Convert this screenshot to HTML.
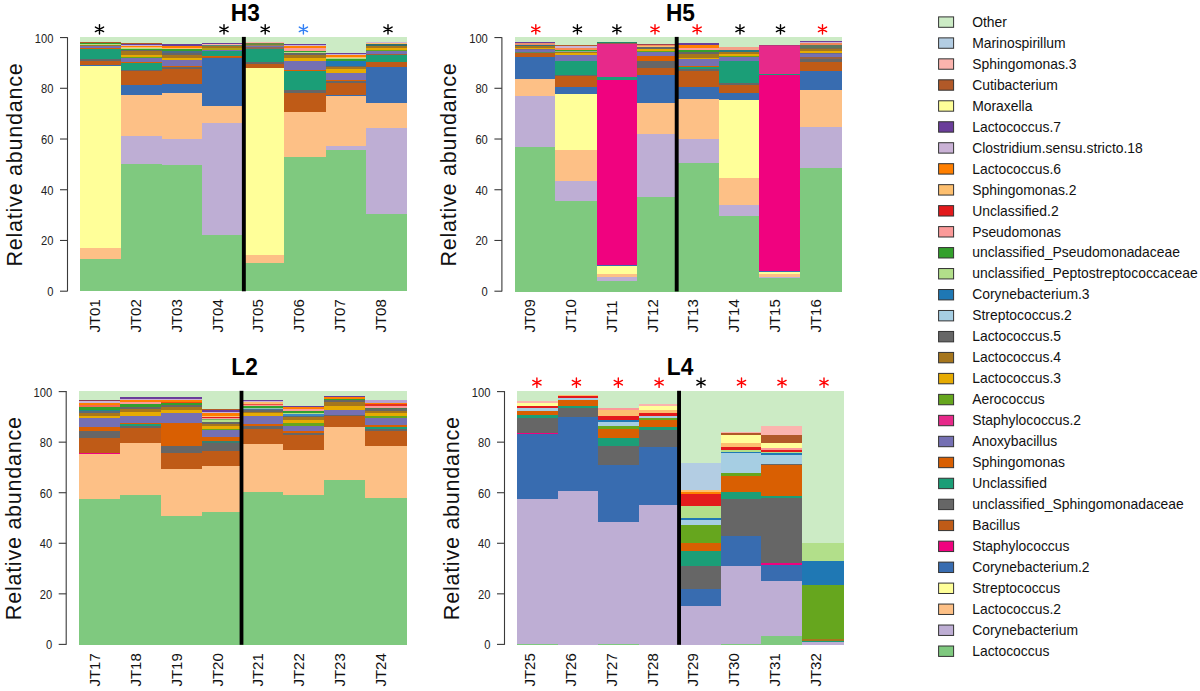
<!DOCTYPE html><html><head><meta charset="utf-8"><title>Relative abundance</title><style>html,body{margin:0;padding:0;background:#fff;}svg{display:block;}</style></head><body>
<svg width="1200" height="691" viewBox="0 0 1200 691" font-family='"Liberation Sans", sans-serif'>
<rect width="1200" height="691" fill="#fff"/>
<g shape-rendering="crispEdges">
<rect x="80" y="37.2" width="41.3" height="4.3" fill="#CCEBC5"/>
<rect x="80" y="41.5" width="41.3" height="0.5" fill="#FBB4AE"/>
<rect x="80" y="42" width="41.3" height="0.5" fill="#B15928"/>
<rect x="80" y="42.5" width="41.3" height="0.5" fill="#CAB2D6"/>
<rect x="80" y="43" width="41.3" height="1" fill="#33A02C"/>
<rect x="80" y="44" width="41.3" height="0.9" fill="#B2DF8A"/>
<rect x="80" y="44.9" width="41.3" height="0.5" fill="#666666"/>
<rect x="80" y="45.4" width="41.3" height="0.5" fill="#A6761D"/>
<rect x="80" y="45.9" width="41.3" height="2.1" fill="#7570B3"/>
<rect x="80" y="48" width="41.3" height="1.3" fill="#D95F02"/>
<rect x="80" y="49.3" width="41.3" height="9.9" fill="#1B9E77"/>
<rect x="80" y="59.2" width="41.3" height="1.4" fill="#666666"/>
<rect x="80" y="60.6" width="41.3" height="4.4" fill="#BF5B17"/>
<rect x="80" y="65" width="41.3" height="0.7" fill="#386CB0"/>
<rect x="80" y="65.7" width="41.3" height="182.2" fill="#FFFF99"/>
<rect x="80" y="247.9" width="41.3" height="11.4" fill="#FDC086"/>
<rect x="80" y="259.3" width="41.3" height="32" fill="#7FC97F"/>
<rect x="121" y="37.2" width="41" height="5.8" fill="#CCEBC5"/>
<rect x="121" y="43" width="41" height="1.1" fill="#B15928"/>
<rect x="121" y="44.1" width="41" height="0.65" fill="#6A3D9A"/>
<rect x="121" y="44.75" width="41" height="0.85" fill="#CAB2D6"/>
<rect x="121" y="45.6" width="41" height="1.7" fill="#FF7F00"/>
<rect x="121" y="47.3" width="41" height="1" fill="#FDBF6F"/>
<rect x="121" y="48.3" width="41" height="0.55" fill="#B2DF8A"/>
<rect x="121" y="48.85" width="41" height="1.15" fill="#33A02C"/>
<rect x="121" y="50" width="41" height="1.4" fill="#666666"/>
<rect x="121" y="51.4" width="41" height="3.4" fill="#A6761D"/>
<rect x="121" y="54.8" width="41" height="2.4" fill="#E6AB02"/>
<rect x="121" y="57.2" width="41" height="0.8" fill="#66A61E"/>
<rect x="121" y="58" width="41" height="3.8" fill="#7570B3"/>
<rect x="121" y="61.8" width="41" height="1.2" fill="#D95F02"/>
<rect x="121" y="63" width="41" height="7.2" fill="#1B9E77"/>
<rect x="121" y="70.2" width="41" height="1" fill="#666666"/>
<rect x="121" y="71.2" width="41" height="13.5" fill="#BF5B17"/>
<rect x="121" y="84.7" width="41" height="10" fill="#386CB0"/>
<rect x="121" y="94.7" width="41" height="41.3" fill="#FDC086"/>
<rect x="121" y="136" width="41" height="27.9" fill="#BEAED4"/>
<rect x="121" y="163.9" width="41" height="127.4" fill="#7FC97F"/>
<rect x="161.7" y="37.2" width="40.8" height="6.8" fill="#CCEBC5"/>
<rect x="161.7" y="44" width="40.8" height="1.5" fill="#6A3D9A"/>
<rect x="161.7" y="45.5" width="40.8" height="0.6" fill="#CAB2D6"/>
<rect x="161.7" y="46.1" width="40.8" height="1.8" fill="#FF7F00"/>
<rect x="161.7" y="47.9" width="40.8" height="1.1" fill="#FDBF6F"/>
<rect x="161.7" y="49" width="40.8" height="2.3" fill="#33A02C"/>
<rect x="161.7" y="51.3" width="40.8" height="1.3" fill="#4A6E8A"/>
<rect x="161.7" y="52.6" width="40.8" height="2" fill="#666666"/>
<rect x="161.7" y="54.6" width="40.8" height="3.2" fill="#A6761D"/>
<rect x="161.7" y="57.8" width="40.8" height="2.2" fill="#E6AB02"/>
<rect x="161.7" y="60" width="40.8" height="5.6" fill="#7570B3"/>
<rect x="161.7" y="65.6" width="40.8" height="1.1" fill="#D95F02"/>
<rect x="161.7" y="66.7" width="40.8" height="2.2" fill="#666666"/>
<rect x="161.7" y="68.9" width="40.8" height="15.1" fill="#BF5B17"/>
<rect x="161.7" y="84" width="40.8" height="8.6" fill="#386CB0"/>
<rect x="161.7" y="92.6" width="40.8" height="46.2" fill="#FDC086"/>
<rect x="161.7" y="138.8" width="40.8" height="25.9" fill="#BEAED4"/>
<rect x="161.7" y="164.7" width="40.8" height="126.6" fill="#7FC97F"/>
<rect x="202.2" y="37.2" width="41.9" height="5.9" fill="#CCEBC5"/>
<rect x="202.2" y="43.1" width="41.9" height="0.7" fill="#6A3D9A"/>
<rect x="202.2" y="43.8" width="41.9" height="0.8" fill="#FBB4AE"/>
<rect x="202.2" y="44.6" width="41.9" height="1.6" fill="#4E8C78"/>
<rect x="202.2" y="46.2" width="41.9" height="1.9" fill="#A6761D"/>
<rect x="202.2" y="48.1" width="41.9" height="1.8" fill="#B0A412"/>
<rect x="202.2" y="49.9" width="41.9" height="1.4" fill="#7570B3"/>
<rect x="202.2" y="51.3" width="41.9" height="4.4" fill="#1B9E77"/>
<rect x="202.2" y="55.7" width="41.9" height="1.3" fill="#D95F02"/>
<rect x="202.2" y="57" width="41.9" height="1.2" fill="#BF5B17"/>
<rect x="202.2" y="58.2" width="41.9" height="48" fill="#386CB0"/>
<rect x="202.2" y="106.2" width="41.9" height="16.7" fill="#FDC086"/>
<rect x="202.2" y="122.9" width="41.9" height="112.4" fill="#BEAED4"/>
<rect x="202.2" y="235.3" width="41.9" height="56" fill="#7FC97F"/>
<rect x="243.8" y="37.2" width="40.5" height="4.8" fill="#CCEBC5"/>
<rect x="243.8" y="42" width="40.5" height="0.9" fill="#FBB4AE"/>
<rect x="243.8" y="42.9" width="40.5" height="1.6" fill="#6A8A40"/>
<rect x="243.8" y="44.5" width="40.5" height="1.4" fill="#A08050"/>
<rect x="243.8" y="45.9" width="40.5" height="1.3" fill="#7570B3"/>
<rect x="243.8" y="47.2" width="40.5" height="1.4" fill="#8F6A58"/>
<rect x="243.8" y="48.6" width="40.5" height="13.4" fill="#1B9E77"/>
<rect x="243.8" y="62" width="40.5" height="1.7" fill="#666666"/>
<rect x="243.8" y="63.7" width="40.5" height="4.6" fill="#BF5B17"/>
<rect x="243.8" y="68.3" width="40.5" height="186.2" fill="#FFFF99"/>
<rect x="243.8" y="254.5" width="40.5" height="8.3" fill="#FDC086"/>
<rect x="243.8" y="262.8" width="40.5" height="28.5" fill="#7FC97F"/>
<rect x="284" y="37.2" width="42.1" height="6.6" fill="#CCEBC5"/>
<rect x="284" y="43.8" width="42.1" height="1.4" fill="#6A3D9A"/>
<rect x="284" y="45.2" width="42.1" height="0.8" fill="#CAB2D6"/>
<rect x="284" y="46" width="42.1" height="2.3" fill="#FF7F00"/>
<rect x="284" y="48.3" width="42.1" height="2.3" fill="#FB9A99"/>
<rect x="284" y="50.6" width="42.1" height="1.1" fill="#33A02C"/>
<rect x="284" y="51.7" width="42.1" height="1" fill="#B2DF8A"/>
<rect x="284" y="52.7" width="42.1" height="2.7" fill="#666666"/>
<rect x="284" y="55.4" width="42.1" height="2.4" fill="#A6761D"/>
<rect x="284" y="57.8" width="42.1" height="3.5" fill="#E6AB02"/>
<rect x="284" y="61.3" width="42.1" height="8.4" fill="#7570B3"/>
<rect x="284" y="69.7" width="42.1" height="1" fill="#D95F02"/>
<rect x="284" y="70.7" width="42.1" height="19" fill="#1B9E77"/>
<rect x="284" y="89.7" width="42.1" height="2.8" fill="#666666"/>
<rect x="284" y="92.5" width="42.1" height="19.5" fill="#BF5B17"/>
<rect x="284" y="112" width="42.1" height="44.5" fill="#FDC086"/>
<rect x="284" y="156.5" width="42.1" height="134.8" fill="#7FC97F"/>
<rect x="325.8" y="37.2" width="40.2" height="15.7" fill="#CCEBC5"/>
<rect x="325.8" y="52.9" width="40.2" height="1.2" fill="#6A3D9A"/>
<rect x="325.8" y="54.1" width="40.2" height="0.7" fill="#CAB2D6"/>
<rect x="325.8" y="54.8" width="40.2" height="2.2" fill="#FF7F00"/>
<rect x="325.8" y="57" width="40.2" height="1.2" fill="#FDBF6F"/>
<rect x="325.8" y="58.2" width="40.2" height="0.7" fill="#B2DF8A"/>
<rect x="325.8" y="58.9" width="40.2" height="1.7" fill="#33A02C"/>
<rect x="325.8" y="60.6" width="40.2" height="4.9" fill="#1F78B4"/>
<rect x="325.8" y="65.5" width="40.2" height="1.4" fill="#666666"/>
<rect x="325.8" y="66.9" width="40.2" height="1.8" fill="#A6761D"/>
<rect x="325.8" y="68.7" width="40.2" height="4.5" fill="#E6AB02"/>
<rect x="325.8" y="73.2" width="40.2" height="6.3" fill="#7570B3"/>
<rect x="325.8" y="79.5" width="40.2" height="1.4" fill="#D95F02"/>
<rect x="325.8" y="80.9" width="40.2" height="1.8" fill="#666666"/>
<rect x="325.8" y="82.7" width="40.2" height="12.2" fill="#BF5B17"/>
<rect x="325.8" y="94.9" width="40.2" height="1.4" fill="#386CB0"/>
<rect x="325.8" y="96.3" width="40.2" height="49.4" fill="#FDC086"/>
<rect x="325.8" y="145.7" width="40.2" height="4.6" fill="#BEAED4"/>
<rect x="325.8" y="150.3" width="40.2" height="141" fill="#7FC97F"/>
<rect x="365.7" y="37.2" width="41.5" height="5.2" fill="#CCEBC5"/>
<rect x="365.7" y="42.4" width="41.5" height="0.7" fill="#CAB2D6"/>
<rect x="365.7" y="43.1" width="41.5" height="0.9" fill="#FDBF6F"/>
<rect x="365.7" y="44" width="41.5" height="1.9" fill="#2F6E6E"/>
<rect x="365.7" y="45.9" width="41.5" height="1.7" fill="#A6761D"/>
<rect x="365.7" y="47.6" width="41.5" height="2.7" fill="#E6AB02"/>
<rect x="365.7" y="50.3" width="41.5" height="0.8" fill="#66A61E"/>
<rect x="365.7" y="51.1" width="41.5" height="2.8" fill="#7570B3"/>
<rect x="365.7" y="53.9" width="41.5" height="0.8" fill="#A2603A"/>
<rect x="365.7" y="54.7" width="41.5" height="7" fill="#1B9E77"/>
<rect x="365.7" y="61.7" width="41.5" height="5.6" fill="#BF5B17"/>
<rect x="365.7" y="67.3" width="41.5" height="35.6" fill="#386CB0"/>
<rect x="365.7" y="102.9" width="41.5" height="25.3" fill="#FDC086"/>
<rect x="365.7" y="128.2" width="41.5" height="85.6" fill="#BEAED4"/>
<rect x="365.7" y="213.8" width="41.5" height="77.5" fill="#7FC97F"/>
</g>
<rect x="241.9" y="36.9" width="3.9" height="254.4" fill="#000"/>
<g stroke="#3a3a3a" stroke-width="1.1" fill="none">
<path d="M67.5 37.2V291.3"/>
<path d="M60 291.2H67.5"/>
<path d="M60 240.47H67.5"/>
<path d="M60 189.74H67.5"/>
<path d="M60 139.02H67.5"/>
<path d="M60 88.29H67.5"/>
<path d="M60 37.56H67.5"/>
</g>
<g font-size="12" fill="#222" text-anchor="end">
<text transform="translate(53.4 296.15) scale(0.93 1)">0</text>
<text transform="translate(53.4 245.42) scale(0.93 1)">20</text>
<text transform="translate(53.4 194.69) scale(0.93 1)">40</text>
<text transform="translate(53.4 143.97) scale(0.93 1)">60</text>
<text transform="translate(53.4 93.24) scale(0.93 1)">80</text>
<text transform="translate(53.4 42.51) scale(0.93 1)">100</text>
</g>
<text transform="translate(22 164.85) rotate(-90)" font-size="21.6" text-anchor="middle" textLength="203.3" lengthAdjust="spacing" fill="#111">Relative abundance</text>
<g font-size="15" fill="#111">
<text transform="translate(100 332.6) rotate(-90)">JT01</text>
<text transform="translate(140.85 332.6) rotate(-90)">JT02</text>
<text transform="translate(181.7 332.6) rotate(-90)">JT03</text>
<text transform="translate(222.55 332.6) rotate(-90)">JT04</text>
<text transform="translate(263.4 332.6) rotate(-90)">JT05</text>
<text transform="translate(304.25 332.6) rotate(-90)">JT06</text>
<text transform="translate(345.1 332.6) rotate(-90)">JT07</text>
<text transform="translate(385.95 332.6) rotate(-90)">JT08</text>
</g>
<text transform="translate(245.3 20.7) scale(1 1.035)" font-size="22.7" font-weight="bold" text-anchor="middle" fill="#000">H3</text>
<path d="M99.5 34L99.5 24.6M95.39 31.58L103.61 27.02M95.39 27.02L103.61 31.58" stroke="#000" stroke-width="1.4" stroke-linecap="round" fill="none"/>
<path d="M224 34L224 24.6M219.89 31.58L228.11 27.02M219.89 27.02L228.11 31.58" stroke="#000" stroke-width="1.4" stroke-linecap="round" fill="none"/>
<path d="M265.2 34L265.2 24.6M261.09 31.58L269.31 27.02M261.09 27.02L269.31 31.58" stroke="#000" stroke-width="1.4" stroke-linecap="round" fill="none"/>
<path d="M303.4 34L303.4 24.6M299.29 31.58L307.51 27.02M299.29 27.02L307.51 31.58" stroke="#3380F5" stroke-width="1.4" stroke-linecap="round" fill="none"/>
<path d="M388 34L388 24.6M383.89 31.58L392.11 27.02M383.89 27.02L392.11 31.58" stroke="#000" stroke-width="1.4" stroke-linecap="round" fill="none"/>
<g shape-rendering="crispEdges">
<rect x="515" y="37.2" width="40.65" height="4.6" fill="#CCEBC5"/>
<rect x="515" y="41.8" width="40.65" height="1.1" fill="#6A3D9A"/>
<rect x="515" y="42.9" width="40.65" height="1.6" fill="#E89070"/>
<rect x="515" y="44.5" width="40.65" height="1.4" fill="#2F7080"/>
<rect x="515" y="45.9" width="40.65" height="1.7" fill="#A6761D"/>
<rect x="515" y="47.6" width="40.65" height="1.7" fill="#E6AB02"/>
<rect x="515" y="49.3" width="40.65" height="0.7" fill="#7A6A90"/>
<rect x="515" y="50" width="40.65" height="1.7" fill="#7570B3"/>
<rect x="515" y="51.7" width="40.65" height="1" fill="#5E8A60"/>
<rect x="515" y="52.7" width="40.65" height="4.1" fill="#BF5B17"/>
<rect x="515" y="56.8" width="40.65" height="22" fill="#386CB0"/>
<rect x="515" y="78.8" width="40.65" height="17.5" fill="#FDC086"/>
<rect x="515" y="96.3" width="40.65" height="51.1" fill="#BEAED4"/>
<rect x="515" y="147.4" width="40.65" height="144.1" fill="#7FC97F"/>
<rect x="555.35" y="37.2" width="41.95" height="7.6" fill="#CCEBC5"/>
<rect x="555.35" y="44.8" width="41.95" height="1.1" fill="#B15928"/>
<rect x="555.35" y="45.9" width="41.95" height="1.7" fill="#CAB2D6"/>
<rect x="555.35" y="47.6" width="41.95" height="2" fill="#F98850"/>
<rect x="555.35" y="49.6" width="41.95" height="1.3" fill="#33A02C"/>
<rect x="555.35" y="50.9" width="41.95" height="0.8" fill="#8AAAA0"/>
<rect x="555.35" y="51.7" width="41.95" height="1.7" fill="#A6761D"/>
<rect x="555.35" y="53.4" width="41.95" height="1.7" fill="#E6AB02"/>
<rect x="555.35" y="55.1" width="41.95" height="5.5" fill="#7570B3"/>
<rect x="555.35" y="60.6" width="41.95" height="14" fill="#1B9E77"/>
<rect x="555.35" y="74.6" width="41.95" height="0.9" fill="#666666"/>
<rect x="555.35" y="75.5" width="41.95" height="11.7" fill="#BF5B17"/>
<rect x="555.35" y="87.2" width="41.95" height="6.7" fill="#386CB0"/>
<rect x="555.35" y="93.9" width="41.95" height="56.4" fill="#FFFF99"/>
<rect x="555.35" y="150.3" width="41.95" height="30.7" fill="#FDC086"/>
<rect x="555.35" y="181" width="41.95" height="19.8" fill="#BEAED4"/>
<rect x="555.35" y="200.8" width="41.95" height="90.7" fill="#7FC97F"/>
<rect x="597" y="37.2" width="40.1" height="4.8" fill="#CCEBC5"/>
<rect x="597" y="42" width="40.1" height="1.1" fill="#1E8A68"/>
<rect x="597" y="43.1" width="40.1" height="0.6" fill="#9A5A50"/>
<rect x="597" y="43.7" width="40.1" height="33.7" fill="#E7298A"/>
<rect x="597" y="77.4" width="40.1" height="2.1" fill="#1B9E77"/>
<rect x="597" y="79.5" width="40.1" height="185.1" fill="#F0027F"/>
<rect x="597" y="264.6" width="40.1" height="1.4" fill="#386CB0"/>
<rect x="597" y="266" width="40.1" height="7.6" fill="#FFFF99"/>
<rect x="597" y="273.6" width="40.1" height="2.9" fill="#FDC086"/>
<rect x="597" y="276.5" width="40.1" height="4.2" fill="#BEAED4"/>
<rect x="597" y="280.7" width="40.1" height="10.8" fill="#7FC97F"/>
<rect x="636.8" y="37.2" width="40.5" height="6.6" fill="#CCEBC5"/>
<rect x="636.8" y="43.8" width="40.5" height="1" fill="#A04050"/>
<rect x="636.8" y="44.8" width="40.5" height="1.3" fill="#F59060"/>
<rect x="636.8" y="46.1" width="40.5" height="0.6" fill="#FDBF6F"/>
<rect x="636.8" y="46.7" width="40.5" height="1.9" fill="#666666"/>
<rect x="636.8" y="48.6" width="40.5" height="2.4" fill="#E6AB02"/>
<rect x="636.8" y="51" width="40.5" height="0.6" fill="#66A61E"/>
<rect x="636.8" y="51.6" width="40.5" height="4.3" fill="#7570B3"/>
<rect x="636.8" y="55.9" width="40.5" height="5.4" fill="#D95F02"/>
<rect x="636.8" y="61.3" width="40.5" height="6.3" fill="#666666"/>
<rect x="636.8" y="67.6" width="40.5" height="7" fill="#BF5B17"/>
<rect x="636.8" y="74.6" width="40.5" height="28" fill="#386CB0"/>
<rect x="636.8" y="102.6" width="40.5" height="31.8" fill="#FDC086"/>
<rect x="636.8" y="134.4" width="40.5" height="62.4" fill="#BEAED4"/>
<rect x="636.8" y="196.8" width="40.5" height="94.7" fill="#7FC97F"/>
<rect x="677" y="37.2" width="42.3" height="5.9" fill="#CCEBC5"/>
<rect x="677" y="43.1" width="42.3" height="1.8" fill="#6A3D9A"/>
<rect x="677" y="44.9" width="42.3" height="3" fill="#FF7F00"/>
<rect x="677" y="47.9" width="42.3" height="2.1" fill="#FB9A99"/>
<rect x="677" y="50" width="42.3" height="2" fill="#33A02C"/>
<rect x="677" y="52" width="42.3" height="1.7" fill="#666666"/>
<rect x="677" y="53.7" width="42.3" height="4.1" fill="#A6761D"/>
<rect x="677" y="57.8" width="42.3" height="1.5" fill="#E6AB02"/>
<rect x="677" y="59.3" width="42.3" height="6.6" fill="#7570B3"/>
<rect x="677" y="65.9" width="42.3" height="1" fill="#D95F02"/>
<rect x="677" y="66.9" width="42.3" height="1.8" fill="#1B9E77"/>
<rect x="677" y="68.7" width="42.3" height="2" fill="#666666"/>
<rect x="677" y="70.7" width="42.3" height="16.2" fill="#BF5B17"/>
<rect x="677" y="86.9" width="42.3" height="12.2" fill="#386CB0"/>
<rect x="677" y="99.1" width="42.3" height="39.9" fill="#FDC086"/>
<rect x="677" y="139" width="42.3" height="23.7" fill="#BEAED4"/>
<rect x="677" y="162.7" width="42.3" height="128.8" fill="#7FC97F"/>
<rect x="719" y="37.2" width="40.6" height="10" fill="#CCEBC5"/>
<rect x="719" y="47.2" width="40.6" height="3" fill="#F4A088"/>
<rect x="719" y="50.2" width="40.6" height="2.2" fill="#2A7A80"/>
<rect x="719" y="52.4" width="40.6" height="2" fill="#A6761D"/>
<rect x="719" y="54.4" width="40.6" height="1.7" fill="#E6AB02"/>
<rect x="719" y="56.1" width="40.6" height="1" fill="#66A61E"/>
<rect x="719" y="57.1" width="40.6" height="4.2" fill="#7570B3"/>
<rect x="719" y="61.3" width="40.6" height="21.4" fill="#1B9E77"/>
<rect x="719" y="82.7" width="40.6" height="2" fill="#666666"/>
<rect x="719" y="84.7" width="40.6" height="8.4" fill="#BF5B17"/>
<rect x="719" y="93.1" width="40.6" height="7" fill="#386CB0"/>
<rect x="719" y="100.1" width="40.6" height="77.5" fill="#FFFF99"/>
<rect x="719" y="177.6" width="40.6" height="26.9" fill="#FDC086"/>
<rect x="719" y="204.5" width="40.6" height="11.3" fill="#BEAED4"/>
<rect x="719" y="215.8" width="40.6" height="75.7" fill="#7FC97F"/>
<rect x="759.3" y="37.2" width="41" height="7.8" fill="#CCEBC5"/>
<rect x="759.3" y="45" width="41" height="0.8" fill="#B8357A"/>
<rect x="759.3" y="45.8" width="41" height="27.7" fill="#E7298A"/>
<rect x="759.3" y="73.5" width="41" height="1.8" fill="#1B9E77"/>
<rect x="759.3" y="75.3" width="41" height="195.5" fill="#F0027F"/>
<rect x="759.3" y="270.8" width="41" height="0.8" fill="#386CB0"/>
<rect x="759.3" y="271.6" width="41" height="2" fill="#FFFF99"/>
<rect x="759.3" y="273.6" width="41" height="3.7" fill="#FDC086"/>
<rect x="759.3" y="277.3" width="41" height="1.1" fill="#BEAED4"/>
<rect x="759.3" y="278.4" width="41" height="13.1" fill="#7FC97F"/>
<rect x="800" y="37.2" width="42" height="3.9" fill="#CCEBC5"/>
<rect x="800" y="41.1" width="42" height="1" fill="#6A3D9A"/>
<rect x="800" y="42.1" width="42" height="0.8" fill="#CAB2D6"/>
<rect x="800" y="42.9" width="42" height="2.3" fill="#F08858"/>
<rect x="800" y="45.2" width="42" height="2.4" fill="#5A7860"/>
<rect x="800" y="47.6" width="42" height="1.4" fill="#7A6A50"/>
<rect x="800" y="49" width="42" height="2" fill="#A6761D"/>
<rect x="800" y="51" width="42" height="2" fill="#E6AB02"/>
<rect x="800" y="53" width="42" height="0.7" fill="#6A6A90"/>
<rect x="800" y="53.7" width="42" height="3.4" fill="#7570B3"/>
<rect x="800" y="57.1" width="42" height="1.4" fill="#9A6040"/>
<rect x="800" y="58.5" width="42" height="3.5" fill="#666666"/>
<rect x="800" y="62" width="42" height="9.1" fill="#BF5B17"/>
<rect x="800" y="71.1" width="42" height="19.2" fill="#386CB0"/>
<rect x="800" y="90.3" width="42" height="36.5" fill="#FDC086"/>
<rect x="800" y="126.8" width="42" height="41" fill="#BEAED4"/>
<rect x="800" y="167.8" width="42" height="123.7" fill="#7FC97F"/>
</g>
<rect x="674.75" y="36.9" width="3.9" height="254.6" fill="#000"/>
<g stroke="#3a3a3a" stroke-width="1.1" fill="none">
<path d="M501.9 37.2V291.5"/>
<path d="M494.4 291.2H501.9"/>
<path d="M494.4 240.47H501.9"/>
<path d="M494.4 189.74H501.9"/>
<path d="M494.4 139.02H501.9"/>
<path d="M494.4 88.29H501.9"/>
<path d="M494.4 37.56H501.9"/>
</g>
<g font-size="12" fill="#222" text-anchor="end">
<text transform="translate(487.8 296.15) scale(0.93 1)">0</text>
<text transform="translate(487.8 245.42) scale(0.93 1)">20</text>
<text transform="translate(487.8 194.69) scale(0.93 1)">40</text>
<text transform="translate(487.8 143.97) scale(0.93 1)">60</text>
<text transform="translate(487.8 93.24) scale(0.93 1)">80</text>
<text transform="translate(487.8 42.51) scale(0.93 1)">100</text>
</g>
<text transform="translate(456.4 164.95) rotate(-90)" font-size="21.6" text-anchor="middle" textLength="203.3" lengthAdjust="spacing" fill="#111">Relative abundance</text>
<g font-size="15" fill="#111">
<text transform="translate(535.05 332.6) rotate(-90)">JT09</text>
<text transform="translate(575.9 332.6) rotate(-90)">JT10</text>
<text transform="translate(616.75 332.6) rotate(-90)">JT11</text>
<text transform="translate(657.6 332.6) rotate(-90)">JT12</text>
<text transform="translate(698.45 332.6) rotate(-90)">JT13</text>
<text transform="translate(739.3 332.6) rotate(-90)">JT14</text>
<text transform="translate(780.15 332.6) rotate(-90)">JT15</text>
<text transform="translate(821 332.6) rotate(-90)">JT16</text>
</g>
<text transform="translate(680.4 20.7) scale(1 1.035)" font-size="22.7" font-weight="bold" text-anchor="middle" fill="#000">H5</text>
<path d="M535.8 34.05L535.8 24.65M531.69 31.63L539.91 27.07M531.69 27.07L539.91 31.63" stroke="#f00" stroke-width="1.4" stroke-linecap="round" fill="none"/>
<path d="M577.4 34.05L577.4 24.65M573.29 31.63L581.51 27.07M573.29 27.07L581.51 31.63" stroke="#000" stroke-width="1.4" stroke-linecap="round" fill="none"/>
<path d="M616.9 34.05L616.9 24.65M612.79 31.63L621.01 27.07M612.79 27.07L621.01 31.63" stroke="#000" stroke-width="1.4" stroke-linecap="round" fill="none"/>
<path d="M655 34.05L655 24.65M650.89 31.63L659.11 27.07M650.89 27.07L659.11 31.63" stroke="#f00" stroke-width="1.4" stroke-linecap="round" fill="none"/>
<path d="M697.1 34.05L697.1 24.65M692.99 31.63L701.21 27.07M692.99 27.07L701.21 31.63" stroke="#f00" stroke-width="1.4" stroke-linecap="round" fill="none"/>
<path d="M740 34.05L740 24.65M735.89 31.63L744.11 27.07M735.89 27.07L744.11 31.63" stroke="#000" stroke-width="1.4" stroke-linecap="round" fill="none"/>
<path d="M780.5 34.05L780.5 24.65M776.39 31.63L784.61 27.07M776.39 27.07L784.61 31.63" stroke="#000" stroke-width="1.4" stroke-linecap="round" fill="none"/>
<path d="M822.5 34.05L822.5 24.65M818.39 31.63L826.61 27.07M818.39 27.07L826.61 31.63" stroke="#f00" stroke-width="1.4" stroke-linecap="round" fill="none"/>
<g shape-rendering="crispEdges">
<rect x="79.1" y="391.1" width="41.1" height="8.5" fill="#CCEBC5"/>
<rect x="79.1" y="399.6" width="41.1" height="1.6" fill="#8B3A50"/>
<rect x="79.1" y="401.2" width="41.1" height="1.3" fill="#CAB2D6"/>
<rect x="79.1" y="402.5" width="41.1" height="0.7" fill="#FDBF6F"/>
<rect x="79.1" y="403.2" width="41.1" height="2.1" fill="#FF7F00"/>
<rect x="79.1" y="405.3" width="41.1" height="1.7" fill="#F46A50"/>
<rect x="79.1" y="407" width="41.1" height="2.7" fill="#33A02C"/>
<rect x="79.1" y="409.7" width="41.1" height="1.4" fill="#1F8A8A"/>
<rect x="79.1" y="411.1" width="41.1" height="1.7" fill="#5A6A7A"/>
<rect x="79.1" y="412.8" width="41.1" height="2.7" fill="#A6761D"/>
<rect x="79.1" y="415.5" width="41.1" height="2.4" fill="#E6AB02"/>
<rect x="79.1" y="417.9" width="41.1" height="9.2" fill="#7570B3"/>
<rect x="79.1" y="427.1" width="41.1" height="3.9" fill="#D95F02"/>
<rect x="79.1" y="431" width="41.1" height="6.7" fill="#666666"/>
<rect x="79.1" y="437.7" width="41.1" height="15" fill="#BF5B17"/>
<rect x="79.1" y="452.7" width="41.1" height="1.4" fill="#F0027F"/>
<rect x="79.1" y="454.1" width="41.1" height="44.8" fill="#FDC086"/>
<rect x="79.1" y="498.9" width="41.1" height="145.9" fill="#7FC97F"/>
<rect x="119.9" y="391.1" width="41.1" height="6.3" fill="#CCEBC5"/>
<rect x="119.9" y="397.4" width="41.1" height="1.4" fill="#6A3D9A"/>
<rect x="119.9" y="398.8" width="41.1" height="1.1" fill="#CAB2D6"/>
<rect x="119.9" y="399.9" width="41.1" height="2" fill="#FF7F00"/>
<rect x="119.9" y="401.9" width="41.1" height="2.2" fill="#FB9A99"/>
<rect x="119.9" y="404.1" width="41.1" height="2.4" fill="#33A02C"/>
<rect x="119.9" y="406.5" width="41.1" height="2.8" fill="#666666"/>
<rect x="119.9" y="409.3" width="41.1" height="2.8" fill="#A6761D"/>
<rect x="119.9" y="412.1" width="41.1" height="4.2" fill="#E6AB02"/>
<rect x="119.9" y="416.3" width="41.1" height="6.6" fill="#7570B3"/>
<rect x="119.9" y="422.9" width="41.1" height="1.1" fill="#D95F02"/>
<rect x="119.9" y="424" width="41.1" height="1.7" fill="#1B9E77"/>
<rect x="119.9" y="425.7" width="41.1" height="1.8" fill="#666666"/>
<rect x="119.9" y="427.5" width="41.1" height="15.4" fill="#BF5B17"/>
<rect x="119.9" y="442.9" width="41.1" height="51.8" fill="#FDC086"/>
<rect x="119.9" y="494.7" width="41.1" height="150.1" fill="#7FC97F"/>
<rect x="160.7" y="391.1" width="41.2" height="5.7" fill="#CCEBC5"/>
<rect x="160.7" y="396.8" width="41.2" height="2.2" fill="#6A3D9A"/>
<rect x="160.7" y="399" width="41.2" height="1.2" fill="#CAB2D6"/>
<rect x="160.7" y="400.2" width="41.2" height="1.7" fill="#FF7F00"/>
<rect x="160.7" y="401.9" width="41.2" height="1.2" fill="#F04A10"/>
<rect x="160.7" y="403.1" width="41.2" height="2.1" fill="#33A02C"/>
<rect x="160.7" y="405.2" width="41.2" height="1.8" fill="#666666"/>
<rect x="160.7" y="407" width="41.2" height="3.1" fill="#A6761D"/>
<rect x="160.7" y="410.1" width="41.2" height="2.4" fill="#E6AB02"/>
<rect x="160.7" y="412.5" width="41.2" height="10.8" fill="#7570B3"/>
<rect x="160.7" y="423.3" width="41.2" height="22.8" fill="#D95F02"/>
<rect x="160.7" y="446.1" width="41.2" height="6.6" fill="#666666"/>
<rect x="160.7" y="452.7" width="41.2" height="15.9" fill="#BF5B17"/>
<rect x="160.7" y="468.6" width="41.2" height="47" fill="#FDC086"/>
<rect x="160.7" y="515.6" width="41.2" height="129.2" fill="#7FC97F"/>
<rect x="201.6" y="391.1" width="41.1" height="18" fill="#CCEBC5"/>
<rect x="201.6" y="409.1" width="41.1" height="0.8" fill="#B15928"/>
<rect x="201.6" y="409.9" width="41.1" height="1.9" fill="#6A3D9A"/>
<rect x="201.6" y="411.8" width="41.1" height="1.4" fill="#CAB2D6"/>
<rect x="201.6" y="413.2" width="41.1" height="2.8" fill="#FF7F00"/>
<rect x="201.6" y="416" width="41.1" height="0.9" fill="#FDBF6F"/>
<rect x="201.6" y="416.9" width="41.1" height="1.2" fill="#E31A1C"/>
<rect x="201.6" y="418.1" width="41.1" height="1" fill="#FB9A99"/>
<rect x="201.6" y="419.1" width="41.1" height="0.8" fill="#78B060"/>
<rect x="201.6" y="419.9" width="41.1" height="1.9" fill="#B2DF8A"/>
<rect x="201.6" y="421.8" width="41.1" height="2.1" fill="#666666"/>
<rect x="201.6" y="423.9" width="41.1" height="1.9" fill="#A6761D"/>
<rect x="201.6" y="425.8" width="41.1" height="3.2" fill="#E6AB02"/>
<rect x="201.6" y="429" width="41.1" height="0.9" fill="#66A61E"/>
<rect x="201.6" y="429.9" width="41.1" height="6.8" fill="#7570B3"/>
<rect x="201.6" y="436.7" width="41.1" height="4.3" fill="#D95F02"/>
<rect x="201.6" y="441" width="41.1" height="1.7" fill="#3A8070"/>
<rect x="201.6" y="442.7" width="41.1" height="8.6" fill="#666666"/>
<rect x="201.6" y="451.3" width="41.1" height="14.9" fill="#BF5B17"/>
<rect x="201.6" y="466.2" width="41.1" height="45.8" fill="#FDC086"/>
<rect x="201.6" y="512" width="41.1" height="132.8" fill="#7FC97F"/>
<rect x="242.4" y="391.1" width="40.6" height="8.9" fill="#CCEBC5"/>
<rect x="242.4" y="400" width="40.6" height="0.6" fill="#6A3D9A"/>
<rect x="242.4" y="400.6" width="40.6" height="1.6" fill="#CAB2D6"/>
<rect x="242.4" y="402.2" width="40.6" height="1.4" fill="#FDBF6F"/>
<rect x="242.4" y="403.6" width="40.6" height="1.4" fill="#F05040"/>
<rect x="242.4" y="405" width="40.6" height="1.1" fill="#FB9A99"/>
<rect x="242.4" y="406.1" width="40.6" height="2.1" fill="#33A02C"/>
<rect x="242.4" y="408.2" width="40.6" height="0.9" fill="#8AC8B0"/>
<rect x="242.4" y="409.1" width="40.6" height="1" fill="#4A7090"/>
<rect x="242.4" y="410.1" width="40.6" height="2" fill="#666666"/>
<rect x="242.4" y="412.1" width="40.6" height="1.1" fill="#A6761D"/>
<rect x="242.4" y="413.2" width="40.6" height="3" fill="#E6AB02"/>
<rect x="242.4" y="416.2" width="40.6" height="7.5" fill="#7570B3"/>
<rect x="242.4" y="423.7" width="40.6" height="2" fill="#D95F02"/>
<rect x="242.4" y="425.7" width="40.6" height="3.6" fill="#666666"/>
<rect x="242.4" y="429.3" width="40.6" height="15" fill="#BF5B17"/>
<rect x="242.4" y="444.3" width="40.6" height="47.3" fill="#FDC086"/>
<rect x="242.4" y="491.6" width="40.6" height="153.2" fill="#7FC97F"/>
<rect x="282.7" y="391.1" width="41.3" height="14.8" fill="#CCEBC5"/>
<rect x="282.7" y="405.9" width="41.3" height="1.1" fill="#6A3D9A"/>
<rect x="282.7" y="407" width="41.3" height="1.9" fill="#FF7F00"/>
<rect x="282.7" y="408.9" width="41.3" height="2" fill="#FB9A99"/>
<rect x="282.7" y="410.9" width="41.3" height="1.9" fill="#33A02C"/>
<rect x="282.7" y="412.8" width="41.3" height="1" fill="#B2DF8A"/>
<rect x="282.7" y="413.8" width="41.3" height="1.8" fill="#3A8AC0"/>
<rect x="282.7" y="415.6" width="41.3" height="1" fill="#5A6A7A"/>
<rect x="282.7" y="416.6" width="41.3" height="3.1" fill="#A6761D"/>
<rect x="282.7" y="419.7" width="41.3" height="3.2" fill="#E6AB02"/>
<rect x="282.7" y="422.9" width="41.3" height="2.8" fill="#66A61E"/>
<rect x="282.7" y="425.7" width="41.3" height="5.6" fill="#7570B3"/>
<rect x="282.7" y="431.3" width="41.3" height="1.4" fill="#D95F02"/>
<rect x="282.7" y="432.7" width="41.3" height="2.2" fill="#666666"/>
<rect x="282.7" y="434.9" width="41.3" height="15" fill="#BF5B17"/>
<rect x="282.7" y="449.9" width="41.3" height="45.3" fill="#FDC086"/>
<rect x="282.7" y="495.2" width="41.3" height="149.6" fill="#7FC97F"/>
<rect x="323.7" y="391.1" width="41.2" height="4.6" fill="#CCEBC5"/>
<rect x="323.7" y="395.7" width="41.2" height="1.4" fill="#6A3D9A"/>
<rect x="323.7" y="397.1" width="41.2" height="1.7" fill="#FF7F00"/>
<rect x="323.7" y="398.8" width="41.2" height="1.4" fill="#33A02C"/>
<rect x="323.7" y="400.2" width="41.2" height="1.7" fill="#666666"/>
<rect x="323.7" y="401.9" width="41.2" height="3.6" fill="#A6761D"/>
<rect x="323.7" y="405.5" width="41.2" height="4.2" fill="#E6AB02"/>
<rect x="323.7" y="409.7" width="41.2" height="5.6" fill="#7570B3"/>
<rect x="323.7" y="415.3" width="41.2" height="1" fill="#666666"/>
<rect x="323.7" y="416.3" width="41.2" height="10.5" fill="#BF5B17"/>
<rect x="323.7" y="426.8" width="41.2" height="53.2" fill="#FDC086"/>
<rect x="323.7" y="480" width="41.2" height="164.8" fill="#7FC97F"/>
<rect x="364.6" y="391.1" width="42" height="9.1" fill="#CCEBC5"/>
<rect x="364.6" y="400.2" width="42" height="2.4" fill="#B8A0D0"/>
<rect x="364.6" y="402.6" width="42" height="1.3" fill="#FF7F00"/>
<rect x="364.6" y="403.9" width="42" height="2.1" fill="#E83020"/>
<rect x="364.6" y="406" width="42" height="1.9" fill="#FB9A99"/>
<rect x="364.6" y="407.9" width="42" height="1.2" fill="#4A7A50"/>
<rect x="364.6" y="409.1" width="42" height="2" fill="#666666"/>
<rect x="364.6" y="411.1" width="42" height="1.7" fill="#A6761D"/>
<rect x="364.6" y="412.8" width="42" height="3.4" fill="#E6AB02"/>
<rect x="364.6" y="416.2" width="42" height="1.7" fill="#66A61E"/>
<rect x="364.6" y="417.9" width="42" height="7.2" fill="#7570B3"/>
<rect x="364.6" y="425.1" width="42" height="1.7" fill="#D95F02"/>
<rect x="364.6" y="426.8" width="42" height="2.1" fill="#1B9E77"/>
<rect x="364.6" y="428.9" width="42" height="2.1" fill="#666666"/>
<rect x="364.6" y="431" width="42" height="14.7" fill="#BF5B17"/>
<rect x="364.6" y="445.7" width="42" height="52" fill="#FDC086"/>
<rect x="364.6" y="497.7" width="42" height="147.1" fill="#7FC97F"/>
</g>
<rect x="239.6" y="390.8" width="3.8" height="254" fill="#000"/>
<g stroke="#3a3a3a" stroke-width="1.1" fill="none">
<path d="M66.2 391.1V644.8"/>
<path d="M58.7 644.4H66.2"/>
<path d="M58.7 593.84H66.2"/>
<path d="M58.7 543.28H66.2"/>
<path d="M58.7 492.72H66.2"/>
<path d="M58.7 442.16H66.2"/>
<path d="M58.7 391.6H66.2"/>
</g>
<g font-size="12" fill="#222" text-anchor="end">
<text transform="translate(52.1 649.35) scale(0.93 1)">0</text>
<text transform="translate(52.1 598.79) scale(0.93 1)">20</text>
<text transform="translate(52.1 548.23) scale(0.93 1)">40</text>
<text transform="translate(52.1 497.67) scale(0.93 1)">60</text>
<text transform="translate(52.1 447.11) scale(0.93 1)">80</text>
<text transform="translate(52.1 396.55) scale(0.93 1)">100</text>
</g>
<text transform="translate(20.7 518.55) rotate(-90)" font-size="21.6" text-anchor="middle" textLength="203.3" lengthAdjust="spacing" fill="#111">Relative abundance</text>
<g font-size="15" fill="#111">
<text transform="translate(100.05 686.6) rotate(-90)">JT17</text>
<text transform="translate(140.9 686.6) rotate(-90)">JT18</text>
<text transform="translate(181.75 686.6) rotate(-90)">JT19</text>
<text transform="translate(222.6 686.6) rotate(-90)">JT20</text>
<text transform="translate(263.45 686.6) rotate(-90)">JT21</text>
<text transform="translate(304.3 686.6) rotate(-90)">JT22</text>
<text transform="translate(345.15 686.6) rotate(-90)">JT23</text>
<text transform="translate(386 686.6) rotate(-90)">JT24</text>
</g>
<text transform="translate(244.6 374.6) scale(1 1.035)" font-size="22.7" font-weight="bold" text-anchor="middle" fill="#000">L2</text>
<g shape-rendering="crispEdges">
<rect x="516.8" y="391.1" width="41.4" height="10.2" fill="#CCEBC5"/>
<rect x="516.8" y="401.3" width="41.4" height="1.7" fill="#FBB4AE"/>
<rect x="516.8" y="403" width="41.4" height="2.8" fill="#FFFF99"/>
<rect x="516.8" y="405.8" width="41.4" height="2.1" fill="#E31A1C"/>
<rect x="516.8" y="407.9" width="41.4" height="3.2" fill="#A6CEE3"/>
<rect x="516.8" y="411.1" width="41.4" height="3.8" fill="#D95F02"/>
<rect x="516.8" y="414.9" width="41.4" height="3.2" fill="#1B9E77"/>
<rect x="516.8" y="418.1" width="41.4" height="14.6" fill="#666666"/>
<rect x="516.8" y="432.7" width="41.4" height="1.4" fill="#F0027F"/>
<rect x="516.8" y="434.1" width="41.4" height="65.2" fill="#386CB0"/>
<rect x="516.8" y="499.3" width="41.4" height="144.5" fill="#BEAED4"/>
<rect x="516.8" y="643.8" width="41.4" height="1" fill="#7FC97F"/>
<rect x="557.9" y="391.1" width="40.6" height="4.2" fill="#CCEBC5"/>
<rect x="557.9" y="395.3" width="40.6" height="1" fill="#FDBF6F"/>
<rect x="557.9" y="396.3" width="40.6" height="1.8" fill="#E31A1C"/>
<rect x="557.9" y="398.1" width="40.6" height="2.1" fill="#A6CEE3"/>
<rect x="557.9" y="400.2" width="40.6" height="5.6" fill="#D95F02"/>
<rect x="557.9" y="405.8" width="40.6" height="1.7" fill="#1B9E77"/>
<rect x="557.9" y="407.5" width="40.6" height="9.2" fill="#666666"/>
<rect x="557.9" y="416.7" width="40.6" height="74.5" fill="#386CB0"/>
<rect x="557.9" y="491.2" width="40.6" height="153.6" fill="#BEAED4"/>
<rect x="598.2" y="391.1" width="41.1" height="17.2" fill="#CCEBC5"/>
<rect x="598.2" y="408.3" width="41.1" height="1.7" fill="#FB9A99"/>
<rect x="598.2" y="410" width="41.1" height="5.6" fill="#FDBF6F"/>
<rect x="598.2" y="415.6" width="41.1" height="4.2" fill="#E31A1C"/>
<rect x="598.2" y="419.8" width="41.1" height="1.7" fill="#1F78B4"/>
<rect x="598.2" y="421.5" width="41.1" height="4.6" fill="#A6CEE3"/>
<rect x="598.2" y="426.1" width="41.1" height="2.4" fill="#66A61E"/>
<rect x="598.2" y="428.5" width="41.1" height="9.8" fill="#D95F02"/>
<rect x="598.2" y="438.3" width="41.1" height="7.7" fill="#1B9E77"/>
<rect x="598.2" y="446" width="41.1" height="18.8" fill="#666666"/>
<rect x="598.2" y="464.8" width="41.1" height="57.1" fill="#386CB0"/>
<rect x="598.2" y="521.9" width="41.1" height="121.9" fill="#BEAED4"/>
<rect x="598.2" y="643.8" width="41.1" height="1" fill="#7FC97F"/>
<rect x="639" y="391.1" width="41.3" height="13" fill="#CCEBC5"/>
<rect x="639" y="404.1" width="41.3" height="2" fill="#FBB4AE"/>
<rect x="639" y="406.1" width="41.3" height="3.9" fill="#FFFF99"/>
<rect x="639" y="410" width="41.3" height="3.1" fill="#FDBF6F"/>
<rect x="639" y="413.1" width="41.3" height="3.2" fill="#E31A1C"/>
<rect x="639" y="416.3" width="41.3" height="2.1" fill="#A6CEE3"/>
<rect x="639" y="418.4" width="41.3" height="1.7" fill="#66A61E"/>
<rect x="639" y="420.1" width="41.3" height="7" fill="#D95F02"/>
<rect x="639" y="427.1" width="41.3" height="2.5" fill="#1B9E77"/>
<rect x="639" y="429.6" width="41.3" height="17" fill="#666666"/>
<rect x="639" y="446.6" width="41.3" height="58.4" fill="#386CB0"/>
<rect x="639" y="505" width="41.3" height="139.8" fill="#BEAED4"/>
<rect x="680" y="391.1" width="41.4" height="71.7" fill="#CCEBC5"/>
<rect x="680" y="462.8" width="41.4" height="26.9" fill="#B3CDE3"/>
<rect x="680" y="489.7" width="41.4" height="2.1" fill="#FDBF6F"/>
<rect x="680" y="491.8" width="41.4" height="2.4" fill="#FF7F00"/>
<rect x="680" y="494.2" width="41.4" height="12" fill="#E31A1C"/>
<rect x="680" y="506.2" width="41.4" height="11.5" fill="#B2DF8A"/>
<rect x="680" y="517.7" width="41.4" height="2.1" fill="#1F78B4"/>
<rect x="680" y="519.8" width="41.4" height="5.1" fill="#A6CEE3"/>
<rect x="680" y="524.9" width="41.4" height="18.1" fill="#66A61E"/>
<rect x="680" y="543" width="41.4" height="8.4" fill="#D95F02"/>
<rect x="680" y="551.4" width="41.4" height="14.5" fill="#1B9E77"/>
<rect x="680" y="565.9" width="41.4" height="23.1" fill="#666666"/>
<rect x="680" y="589" width="41.4" height="16.8" fill="#386CB0"/>
<rect x="680" y="605.8" width="41.4" height="39" fill="#BEAED4"/>
<rect x="721.1" y="391.1" width="40.6" height="40.6" fill="#CCEBC5"/>
<rect x="721.1" y="431.7" width="40.6" height="1.4" fill="#FBB4AE"/>
<rect x="721.1" y="433.1" width="40.6" height="1.4" fill="#B15928"/>
<rect x="721.1" y="434.5" width="40.6" height="8.4" fill="#FFFF99"/>
<rect x="721.1" y="442.9" width="40.6" height="3.8" fill="#FDBF6F"/>
<rect x="721.1" y="446.7" width="40.6" height="3.2" fill="#E31A1C"/>
<rect x="721.1" y="449.9" width="40.6" height="1.6" fill="#B2DF8A"/>
<rect x="721.1" y="451.5" width="40.6" height="1.9" fill="#1F78B4"/>
<rect x="721.1" y="453.4" width="40.6" height="19.6" fill="#A6CEE3"/>
<rect x="721.1" y="473" width="40.6" height="2.5" fill="#66A61E"/>
<rect x="721.1" y="475.5" width="40.6" height="16.3" fill="#D95F02"/>
<rect x="721.1" y="491.8" width="40.6" height="6.9" fill="#1B9E77"/>
<rect x="721.1" y="498.7" width="40.6" height="37.1" fill="#666666"/>
<rect x="721.1" y="535.8" width="40.6" height="30.1" fill="#386CB0"/>
<rect x="721.1" y="565.9" width="40.6" height="77.9" fill="#BEAED4"/>
<rect x="721.1" y="643.8" width="40.6" height="1" fill="#7FC97F"/>
<rect x="761.4" y="391.1" width="40.9" height="35" fill="#CCEBC5"/>
<rect x="761.4" y="426.1" width="40.9" height="8.8" fill="#FBB4AE"/>
<rect x="761.4" y="434.9" width="40.9" height="8.4" fill="#B15928"/>
<rect x="761.4" y="443.3" width="40.9" height="4.8" fill="#FFFF99"/>
<rect x="761.4" y="448.1" width="40.9" height="1.4" fill="#FB9A99"/>
<rect x="761.4" y="449.5" width="40.9" height="2.2" fill="#E31A1C"/>
<rect x="761.4" y="451.7" width="40.9" height="1.3" fill="#B2DF8A"/>
<rect x="761.4" y="453" width="40.9" height="1.8" fill="#1F78B4"/>
<rect x="761.4" y="454.8" width="40.9" height="9.4" fill="#A6CEE3"/>
<rect x="761.4" y="464.2" width="40.9" height="0.6" fill="#666666"/>
<rect x="761.4" y="464.8" width="40.9" height="30.9" fill="#D95F02"/>
<rect x="761.4" y="495.7" width="40.9" height="2.1" fill="#1B9E77"/>
<rect x="761.4" y="497.8" width="40.9" height="65.1" fill="#666666"/>
<rect x="761.4" y="562.9" width="40.9" height="2.1" fill="#F0027F"/>
<rect x="761.4" y="565" width="40.9" height="15.9" fill="#386CB0"/>
<rect x="761.4" y="580.9" width="40.9" height="55.4" fill="#BEAED4"/>
<rect x="761.4" y="636.3" width="40.9" height="8.5" fill="#7FC97F"/>
<rect x="802" y="391.1" width="41.8" height="152.2" fill="#CCEBC5"/>
<rect x="802" y="543.3" width="41.8" height="18" fill="#B2DF8A"/>
<rect x="802" y="561.3" width="41.8" height="24.1" fill="#1F78B4"/>
<rect x="802" y="585.4" width="41.8" height="53.3" fill="#66A61E"/>
<rect x="802" y="638.7" width="41.8" height="1.9" fill="#A6761D"/>
<rect x="802" y="640.6" width="41.8" height="1.2" fill="#1B9E77"/>
<rect x="802" y="641.8" width="41.8" height="3" fill="#BEAED4"/>
</g>
<rect x="677.1" y="390.8" width="3.9" height="254" fill="#000"/>
<g stroke="#3a3a3a" stroke-width="1.1" fill="none">
<path d="M504.5 391.1V644.8"/>
<path d="M497 644.4H504.5"/>
<path d="M497 593.84H504.5"/>
<path d="M497 543.28H504.5"/>
<path d="M497 492.72H504.5"/>
<path d="M497 442.16H504.5"/>
<path d="M497 391.6H504.5"/>
</g>
<g font-size="12" fill="#222" text-anchor="end">
<text transform="translate(490.4 649.35) scale(0.93 1)">0</text>
<text transform="translate(490.4 598.79) scale(0.93 1)">20</text>
<text transform="translate(490.4 548.23) scale(0.93 1)">40</text>
<text transform="translate(490.4 497.67) scale(0.93 1)">60</text>
<text transform="translate(490.4 447.11) scale(0.93 1)">80</text>
<text transform="translate(490.4 396.55) scale(0.93 1)">100</text>
</g>
<text transform="translate(459 518.55) rotate(-90)" font-size="21.6" text-anchor="middle" textLength="203.3" lengthAdjust="spacing" fill="#111">Relative abundance</text>
<g font-size="15" fill="#111">
<text transform="translate(535.05 686.6) rotate(-90)">JT25</text>
<text transform="translate(575.9 686.6) rotate(-90)">JT26</text>
<text transform="translate(616.75 686.6) rotate(-90)">JT27</text>
<text transform="translate(657.6 686.6) rotate(-90)">JT28</text>
<text transform="translate(698.45 686.6) rotate(-90)">JT29</text>
<text transform="translate(739.3 686.6) rotate(-90)">JT30</text>
<text transform="translate(780.15 686.6) rotate(-90)">JT31</text>
<text transform="translate(821 686.6) rotate(-90)">JT32</text>
</g>
<text transform="translate(680 374.6) scale(1 1.035)" font-size="22.7" font-weight="bold" text-anchor="middle" fill="#000">L4</text>
<path d="M536.9 387.4L536.9 378M532.79 384.98L541.01 380.42M532.79 380.42L541.01 384.98" stroke="#f00" stroke-width="1.4" stroke-linecap="round" fill="none"/>
<path d="M576.4 387.4L576.4 378M572.29 384.98L580.51 380.42M572.29 380.42L580.51 384.98" stroke="#f00" stroke-width="1.4" stroke-linecap="round" fill="none"/>
<path d="M618.3 387.4L618.3 378M614.19 384.98L622.41 380.42M614.19 380.42L622.41 384.98" stroke="#f00" stroke-width="1.4" stroke-linecap="round" fill="none"/>
<path d="M659.1 387.4L659.1 378M654.99 384.98L663.21 380.42M654.99 380.42L663.21 384.98" stroke="#f00" stroke-width="1.4" stroke-linecap="round" fill="none"/>
<path d="M701 387.4L701 378M696.89 384.98L705.11 380.42M696.89 380.42L705.11 384.98" stroke="#000" stroke-width="1.4" stroke-linecap="round" fill="none"/>
<path d="M741.5 387.4L741.5 378M737.39 384.98L745.61 380.42M737.39 380.42L745.61 384.98" stroke="#f00" stroke-width="1.4" stroke-linecap="round" fill="none"/>
<path d="M782 387.4L782 378M777.89 384.98L786.11 380.42M777.89 380.42L786.11 384.98" stroke="#f00" stroke-width="1.4" stroke-linecap="round" fill="none"/>
<path d="M824 387.4L824 378M819.89 384.98L828.11 380.42M819.89 380.42L828.11 384.98" stroke="#f00" stroke-width="1.4" stroke-linecap="round" fill="none"/>
<g font-size="13.9" fill="#111">
<rect x="938.6" y="16.9" width="15" height="10.4" fill="#CCEBC5" stroke="#333" stroke-width="1"/>
<text x="972.2" y="26.8">Other</text>
<rect x="938.6" y="37.87" width="15" height="10.4" fill="#B3CDE3" stroke="#333" stroke-width="1"/>
<text x="972.2" y="47.77">Marinospirillum</text>
<rect x="938.6" y="58.84" width="15" height="10.4" fill="#FBB4AE" stroke="#333" stroke-width="1"/>
<text x="972.2" y="68.74">Sphingomonas.3</text>
<rect x="938.6" y="79.81" width="15" height="10.4" fill="#B15928" stroke="#333" stroke-width="1"/>
<text x="972.2" y="89.71">Cutibacterium</text>
<rect x="938.6" y="100.78" width="15" height="10.4" fill="#FFFF99" stroke="#333" stroke-width="1"/>
<text x="972.2" y="110.68">Moraxella</text>
<rect x="938.6" y="121.75" width="15" height="10.4" fill="#6A3D9A" stroke="#333" stroke-width="1"/>
<text x="972.2" y="131.65">Lactococcus.7</text>
<rect x="938.6" y="142.72" width="15" height="10.4" fill="#CAB2D6" stroke="#333" stroke-width="1"/>
<text x="972.2" y="152.62">Clostridium.sensu.stricto.18</text>
<rect x="938.6" y="163.69" width="15" height="10.4" fill="#FF7F00" stroke="#333" stroke-width="1"/>
<text x="972.2" y="173.59">Lactococcus.6</text>
<rect x="938.6" y="184.66" width="15" height="10.4" fill="#FDBF6F" stroke="#333" stroke-width="1"/>
<text x="972.2" y="194.56">Sphingomonas.2</text>
<rect x="938.6" y="205.63" width="15" height="10.4" fill="#E31A1C" stroke="#333" stroke-width="1"/>
<text x="972.2" y="215.53">Unclassified.2</text>
<rect x="938.6" y="226.6" width="15" height="10.4" fill="#FB9A99" stroke="#333" stroke-width="1"/>
<text x="972.2" y="236.5">Pseudomonas</text>
<rect x="938.6" y="247.57" width="15" height="10.4" fill="#33A02C" stroke="#333" stroke-width="1"/>
<text x="972.2" y="257.47">unclassified_Pseudomonadaceae</text>
<rect x="938.6" y="268.54" width="15" height="10.4" fill="#B2DF8A" stroke="#333" stroke-width="1"/>
<text x="972.2" y="278.44">unclassified_Peptostreptococcaceae</text>
<rect x="938.6" y="289.51" width="15" height="10.4" fill="#1F78B4" stroke="#333" stroke-width="1"/>
<text x="972.2" y="299.41">Corynebacterium.3</text>
<rect x="938.6" y="310.48" width="15" height="10.4" fill="#A6CEE3" stroke="#333" stroke-width="1"/>
<text x="972.2" y="320.38">Streptococcus.2</text>
<rect x="938.6" y="331.45" width="15" height="10.4" fill="#666666" stroke="#333" stroke-width="1"/>
<text x="972.2" y="341.35">Lactococcus.5</text>
<rect x="938.6" y="352.42" width="15" height="10.4" fill="#A6761D" stroke="#333" stroke-width="1"/>
<text x="972.2" y="362.32">Lactococcus.4</text>
<rect x="938.6" y="373.39" width="15" height="10.4" fill="#E6AB02" stroke="#333" stroke-width="1"/>
<text x="972.2" y="383.29">Lactococcus.3</text>
<rect x="938.6" y="394.36" width="15" height="10.4" fill="#66A61E" stroke="#333" stroke-width="1"/>
<text x="972.2" y="404.26">Aerococcus</text>
<rect x="938.6" y="415.33" width="15" height="10.4" fill="#E7298A" stroke="#333" stroke-width="1"/>
<text x="972.2" y="425.23">Staphylococcus.2</text>
<rect x="938.6" y="436.3" width="15" height="10.4" fill="#7570B3" stroke="#333" stroke-width="1"/>
<text x="972.2" y="446.2">Anoxybacillus</text>
<rect x="938.6" y="457.27" width="15" height="10.4" fill="#D95F02" stroke="#333" stroke-width="1"/>
<text x="972.2" y="467.17">Sphingomonas</text>
<rect x="938.6" y="478.24" width="15" height="10.4" fill="#1B9E77" stroke="#333" stroke-width="1"/>
<text x="972.2" y="488.14">Unclassified</text>
<rect x="938.6" y="499.21" width="15" height="10.4" fill="#666666" stroke="#333" stroke-width="1"/>
<text x="972.2" y="509.11">unclassified_Sphingomonadaceae</text>
<rect x="938.6" y="520.18" width="15" height="10.4" fill="#BF5B17" stroke="#333" stroke-width="1"/>
<text x="972.2" y="530.08">Bacillus</text>
<rect x="938.6" y="541.15" width="15" height="10.4" fill="#F0027F" stroke="#333" stroke-width="1"/>
<text x="972.2" y="551.05">Staphylococcus</text>
<rect x="938.6" y="562.12" width="15" height="10.4" fill="#386CB0" stroke="#333" stroke-width="1"/>
<text x="972.2" y="572.02">Corynebacterium.2</text>
<rect x="938.6" y="583.09" width="15" height="10.4" fill="#FFFF99" stroke="#333" stroke-width="1"/>
<text x="972.2" y="592.99">Streptococcus</text>
<rect x="938.6" y="604.06" width="15" height="10.4" fill="#FDC086" stroke="#333" stroke-width="1"/>
<text x="972.2" y="613.96">Lactococcus.2</text>
<rect x="938.6" y="625.03" width="15" height="10.4" fill="#BEAED4" stroke="#333" stroke-width="1"/>
<text x="972.2" y="634.93">Corynebacterium</text>
<rect x="938.6" y="646" width="15" height="10.4" fill="#7FC97F" stroke="#333" stroke-width="1"/>
<text x="972.2" y="655.9">Lactococcus</text>
</g>
</svg></body></html>
